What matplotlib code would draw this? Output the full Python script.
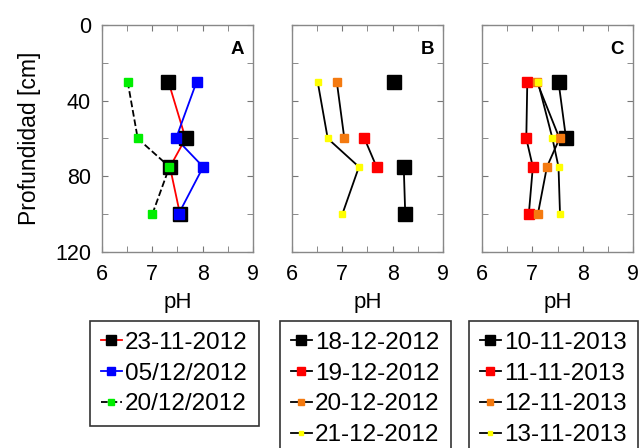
import numpy as np
import matplotlib
matplotlib.use("Agg")
import matplotlib.pyplot as plt
from matplotlib.ticker import MultipleLocator

plt.rcParams['font.family'] = ['Liberation Sans', 'DejaVu Sans']

nan = np.nan
depth = [30, 60, 75, 100]

# Panel A
a_black = [7.32, 7.66, 7.35, 7.55]
a_blue = [7.88, 7.47, 8.01, 7.52]
a_green = [6.51, 6.71, 7.34, 7.00]

# Panel B
b_black = [8.02, nan, 8.22, 8.25]
b_red = [nan, 7.44, 7.68, nan]
b_orange = [6.89, 7.04, nan, nan]
b_yellow = [6.51, 6.71, 7.33, 7.00]

# Panel C
c_black = [7.52, 7.67, nan, nan]
c_red = [6.90, 6.88, 7.01, 6.93]
c_orange = [7.09, 7.54, 7.29, 7.11]
c_yellow = [7.11, 7.40, 7.52, 7.55]

labels_a = ["23-11-2012", "05/12/2012", "20/12/2012"]
labels_b = ["18-12-2012", "19-12-2012", "20-12-2012", "21-12-2012"]
labels_c = ["10-11-2013", "11-11-2013", "12-11-2013", "13-11-2013"]

ORANGE = "#f47a10"
YELLOW = "#ffff00"

fig = plt.figure(figsize=(6.42, 4.48), dpi=100)

W, H = 642, 448
def px_axes(left, top, w, h):
    return fig.add_axes([left / W, 1 - (top + h) / H, w / W, h / H])

axA = px_axes(102, 25, 151, 227)
axB = px_axes(292, 25, 151, 227)
axC = px_axes(482, 25, 151, 227)

# (values, marker color, line color, linestyle, markersize, label)
series_a = [
    (a_black, "black", "red", "-", 9.5, labels_a[0]),
    (a_blue, "blue", "blue", "-", 7.5, labels_a[1]),
    (a_green, "#00ee00", "black", "--", 5.5, labels_a[2]),
]
series_b = [
    (b_black, "black", "black", "-", 9.5, labels_b[0]),
    (b_red, "red", "black", "-", 7.5, labels_b[1]),
    (b_orange, ORANGE, "black", "-", 5.5, labels_b[2]),
    (b_yellow, YELLOW, "black", "-", 4.5, labels_b[3]),
]
series_c = [
    (c_black, "black", "black", "-", 9.5, labels_c[0]),
    (c_red, "red", "black", "-", 7.5, labels_c[1]),
    (c_orange, ORANGE, "black", "-", 5.5, labels_c[2]),
    (c_yellow, YELLOW, "black", "-", 4.5, labels_c[3]),
]

legend_pos = [(90, 321), (280, 321), (469, 321)]

for ax, series, tag, lpos in zip([axA, axB, axC], [series_a, series_b, series_c], "ABC", legend_pos):
    handles = []
    for vals, mc, lc, ls, ms, lab in series:
        ax.plot(vals, depth, color=lc, ls=ls, lw=1.3, zorder=2)
        ax.plot(vals, depth, ls="none", marker="s", ms=ms, mfc=mc, mec=mc, zorder=3)
        h, = ax.plot([], [], color=lc, ls=ls, lw=1.3, marker="s", ms=ms, mfc=mc, mec=mc, label=lab)
        handles.append(h)
    ax.set_xlim(6, 9)
    ax.set_ylim(120, 0)
    ax.xaxis.set_major_locator(MultipleLocator(1))
    ax.xaxis.set_minor_locator(MultipleLocator(0.5))
    ax.yaxis.set_major_locator(MultipleLocator(40))
    ax.yaxis.set_minor_locator(MultipleLocator(20))
    ax.tick_params(which="both", direction="in", top=True, right=True, color="#777777",
                   labelsize=15.5, length=4)
    ax.tick_params(axis="x", pad=9)
    ax.tick_params(axis="y", pad=8)
    for sp in ax.spines.values():
        sp.set_color("#888888")
        sp.set_linewidth(1.0)
    ax.set_xlabel("pH", fontsize=16, labelpad=5)
    ax.text(0.94, 0.93, tag, transform=ax.transAxes, ha="right", va="top",
            fontsize=13.5, fontweight="bold")
    if ax is not axA:
        ax.tick_params(labelleft=False)
    lx, ly = lpos
    leg = fig.legend(handles=handles, loc="upper left",
                     bbox_to_anchor=(lx / W, 1 - ly / H),
                     fontsize=17.5, frameon=True, fancybox=False, handlelength=0.85,
                     handletextpad=0.15, labelspacing=0.36, borderpad=0.45,
                     borderaxespad=0, markerscale=0.75)
    leg.get_frame().set_edgecolor("black")
    leg.get_frame().set_linewidth(1.2)

axA.set_ylabel("Profundidad [cm]", fontsize=16.5, labelpad=10)

fig.savefig("out.png", dpi=100)
